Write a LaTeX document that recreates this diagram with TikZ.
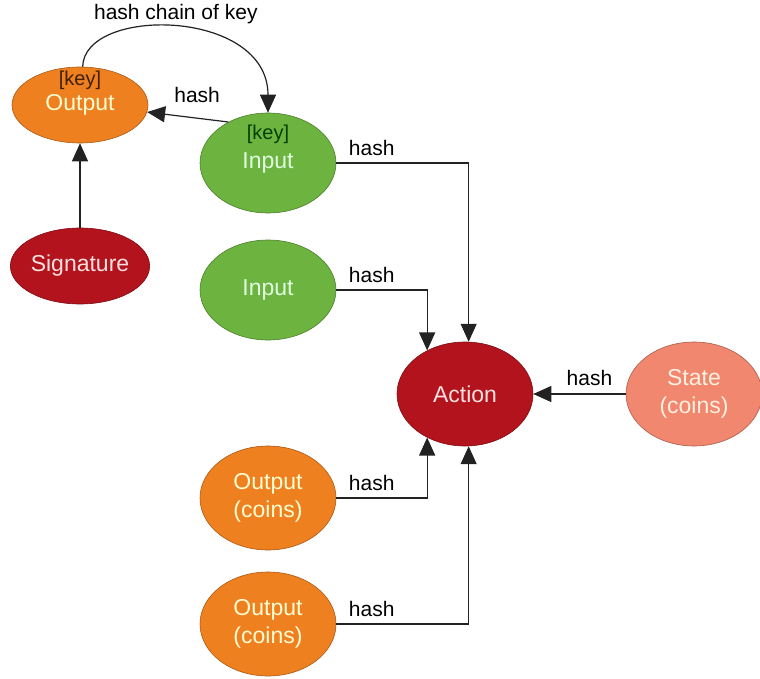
\documentclass[tikz,border=0pt]{standalone}
\usepackage{fontspec}
\setmainfont{Liberation Sans}
\usetikzlibrary{shapes.geometric,arrows.meta,calc}
\definecolor{orng}{HTML}{EF8020}
\definecolor{grn}{HTML}{6CB43F}
\definecolor{dred}{HTML}{B2131C}
\definecolor{salm}{HTML}{F0876E}
\definecolor{linec}{HTML}{222222}
\tikzset{
  ell/.style={ellipse, inner sep=0pt, minimum width=136pt, minimum height=#1, line width=0.6pt, align=center, font=\fontsize{23}{28}\selectfont},
  ell/.default=100pt,
  orngnode/.style={ell=#1, fill=orng, draw=orng!70!black, text=yellow!18!white},
  orngnode/.default=100pt,
  grnnode/.style={ell=100pt, fill=grn, draw=grn!70!black, text=green!12!white},
  rednode/.style={ell=#1, fill=dred, draw=dred!70!black, text=red!12!white},
  rednode/.default=104pt,
  salmnode/.style={ell=104pt, fill=salm, draw=salm!70!black, text=orange!12!white},
  keytxt/.style={font=\fontsize{20}{22}\selectfont, inner sep=0pt},
  lbl/.style={font=\fontsize{21}{24}\selectfont, text=black, inner sep=0pt},
  arr/.style={draw=linec, line width=1.2pt, -{Triangle[length=18pt,width=16pt]}},
}
\begin{document}
\begin{tikzpicture}[x=1pt,y=-1pt]
\useasboundingbox (0,0) rectangle (760,679);
% nodes
\node[orngnode=76pt] (out) at (80,105) {Output};
\node[keytxt, text=orange!25!black] (k1) at (80,80) {[key]};
\node[grnnode] (in1) at (268,163) {Input};
\node[keytxt, text=green!25!black] (k2) at (268,134) {[key]};
\node[rednode=76pt] (sig) at (80,266) {Signature};
\node[grnnode] (in2) at (268,290) {Input};
\node[rednode] (act) at (465,394) {Action};
\node[salmnode] (st) at (694,394) {State\\(coins)};
\node[orngnode=104pt] (oc1) at (268,498) {Output\\(coins)};
\node[orngnode=104pt] (oc2) at (268,624) {Output\\(coins)};
% connectors
\draw[arr] (sig.north) -- (out.south);
\draw[arr] (in1.134) -- (out.-6) node[lbl, midway, above right, xshift=-14pt, yshift=14pt] {hash};
\draw[arr] (out.86) .. controls (84,6) and (268,8) .. (in1.north)
  node[lbl, pos=0.5, above, yshift=3pt] {hash chain of key};
\draw[arr] (in1.east) -| (act.86) node[lbl, pos=0, anchor=south west, xshift=12pt, yshift=7pt] {hash};
\draw[arr] (in2.east) -| (act.131) node[lbl, pos=0, anchor=south west, xshift=12pt, yshift=7pt] {hash};
\draw[arr] (oc1.east) -| (act.229) node[lbl, pos=0, anchor=south west, xshift=12pt, yshift=7pt] {hash};
\draw[arr] (oc2.east) -| (act.274) node[lbl, pos=0, anchor=south west, xshift=12pt, yshift=7pt] {hash};
\draw[arr] (st.west) -- (act.east) node[lbl, midway, above, xshift=10pt, yshift=8pt] {hash};
\end{tikzpicture}
\end{document}
